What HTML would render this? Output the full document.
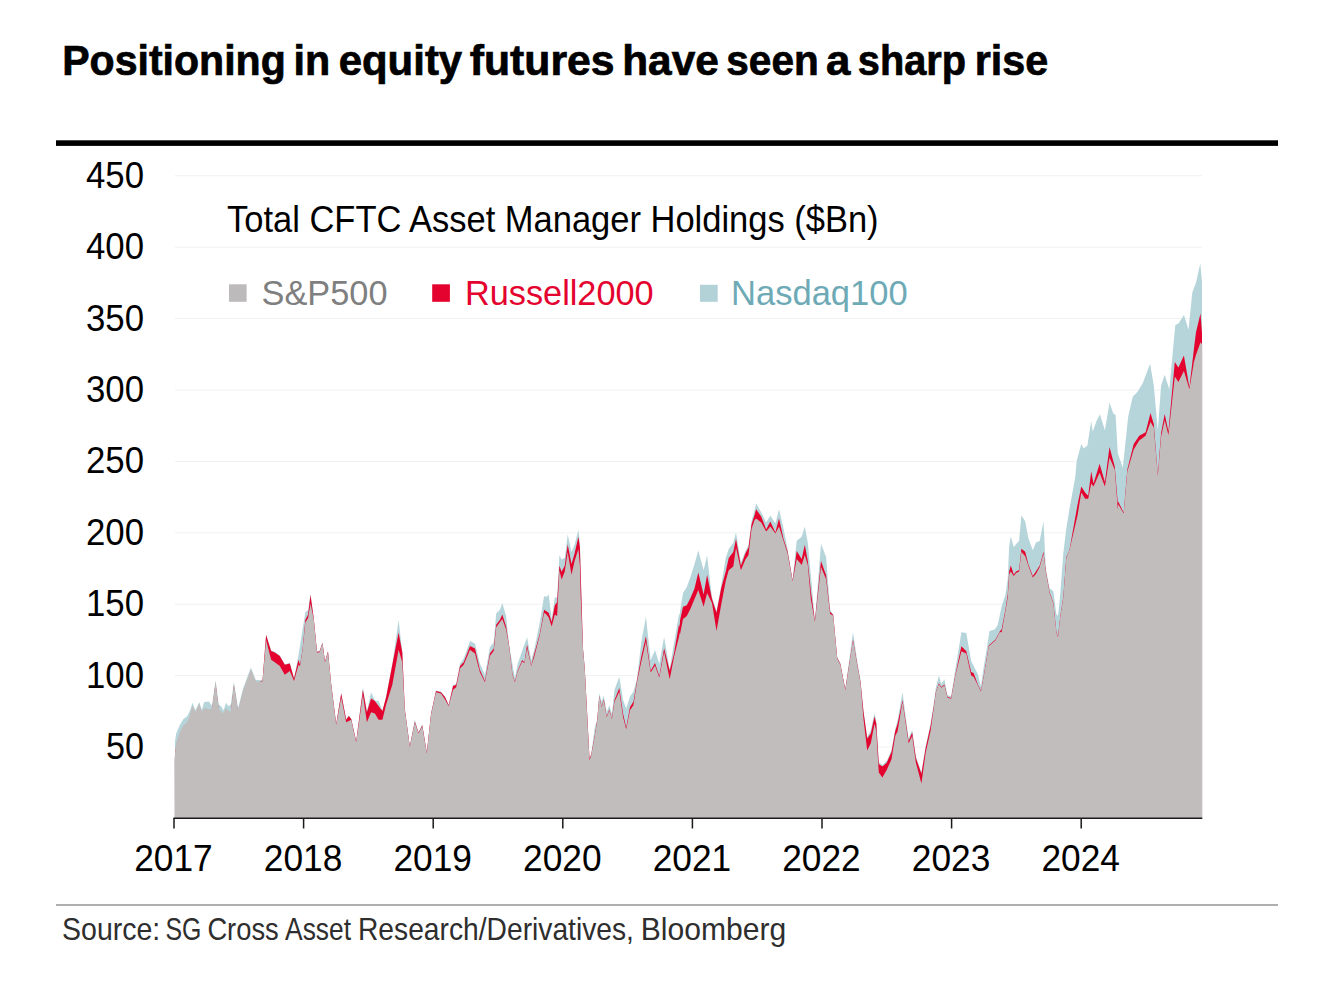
<!DOCTYPE html>
<html><head><meta charset="utf-8">
<style>
html,body{margin:0;padding:0;background:#fff;}
body{width:1338px;height:986px;position:relative;overflow:hidden;font-family:"Liberation Sans",sans-serif;}
svg{position:absolute;left:0;top:0;}
text{font-family:"Liberation Sans",sans-serif;}
</style></head><body>
<svg width="1338" height="986" viewBox="0 0 1338 986">
<rect x="56" y="140.3" width="1222" height="5.6" fill="#000"/>
<g stroke="#f1f1f1" stroke-width="1">
<line x1="175" y1="175.75" x2="1202" y2="175.75"/>
<line x1="175" y1="247.16" x2="1202" y2="247.16"/>
<line x1="175" y1="318.57" x2="1202" y2="318.57"/>
<line x1="175" y1="389.98" x2="1202" y2="389.98"/>
<line x1="175" y1="461.39" x2="1202" y2="461.39"/>
<line x1="175" y1="532.80" x2="1202" y2="532.80"/>
<line x1="175" y1="604.21" x2="1202" y2="604.21"/>
<line x1="175" y1="675.62" x2="1202" y2="675.62"/>
<line x1="175" y1="747.03" x2="1202" y2="747.03"/>
</g>
<defs><clipPath id="cl"><rect x="175.1" y="0" width="1026.9" height="986"/></clipPath></defs>
<g clip-path="url(#cl)">
<path d="M174.5,818.0 L174.3,747.0 L176.1,733.7 L179.7,725.2 L183.4,719.0 L187.0,716.6 L189.5,711.8 L192.5,702.7 L195.5,710.6 L199.2,702.0 L201.9,710.0 L204.1,702.0 L208.9,701.4 L212.0,705.7 L215.6,680.1 L218.7,704.5 L221.1,706.3 L223.5,710.6 L226.0,702.7 L228.4,706.3 L230.8,704.5 L233.9,682.0 L238.1,708.1 L243.0,688.7 L250.9,667.4 L255.8,680.1 L262.5,680.1 L266.1,634.3 L271.1,650.5 L274.8,651.8 L279.8,655.5 L284.8,664.2 L289.8,663.0 L294.0,678.0 L298.5,654.9 L305.3,612.3 L308.1,610.0 L310.5,594.0 L313.7,617.3 L317.0,651.2 L319.5,651.0 L322.5,642.3 L325.0,661.0 L328.0,651.0 L331.2,683.5 L336.2,723.4 L341.2,692.9 L346.2,719.1 L348.7,715.4 L351.2,718.4 L356.2,740.9 L362.9,687.3 L366.9,711.6 L371.1,692.3 L374.9,700.4 L378.6,701.0 L382.4,710.4 L386.1,696.6 L392.3,664.2 L398.6,619.9 L402.3,651.7 L404.8,708.4 L409.8,745.8 L414.8,719.7 L418.5,732.1 L422.3,724.6 L426.8,752.1 L431.0,713.4 L436.0,690.4 L441.0,691.7 L445.0,696.5 L448.7,704.6 L453.0,685.3 L456.2,684.1 L460.0,663.5 L463.7,658.5 L470.0,641.0 L475.0,643.5 L479.9,663.5 L484.9,674.7 L489.9,647.2 L493.7,642.3 L496.2,613.6 L500.0,609.8 L502.3,603.0 L506.1,615.9 L509.1,645.0 L514.9,678.0 L517.5,664.6 L522.1,650.9 L527.1,637.2 L531.2,660.0 L534.2,649.4 L539.6,623.5 L544.1,596.1 L546.4,596.9 L548.7,594.6 L551.7,618.9 L554.8,597.6 L557.1,597.6 L559.4,555.0 L561.6,559.6 L564.7,558.0 L567.7,534.5 L571.5,552.0 L574.6,544.4 L578.4,529.9 L579.9,542.8 L583.0,648.1 L584.8,668.4 L589.5,757.9 L591.2,753.9 L594.7,727.6 L597.2,719.5 L599.3,693.1 L601.6,701.7 L603.8,695.7 L606.7,712.1 L609.3,705.2 L611.9,713.8 L614.5,689.7 L619.3,676.7 L623.1,700.0 L626.2,708.6 L630.0,696.6 L633.4,691.4 L636.9,679.3 L641.2,643.1 L645.9,616.4 L650.7,660.3 L655.0,650.0 L659.3,663.8 L664.1,637.1 L669.7,669.0 L674.0,643.1 L679.1,613.8 L679.8,614.8 L680.0,611.3 L683.0,593.0 L686.8,587.0 L690.7,576.3 L694.5,564.1 L698.3,550.4 L703.6,570.2 L707.1,555.8 L712.0,597.0 L716.5,611.0 L721.1,586.0 L725.7,558.0 L728.7,548.9 L733.3,542.8 L736.0,532.2 L740.9,562.6 L745.4,551.0 L748.5,545.0 L751.5,521.0 L754.6,510.0 L756.1,503.2 L761.2,512.3 L766.2,522.5 L770.3,515.4 L775.4,523.5 L779.0,509.3 L783.5,528.5 L787.5,548.8 L792.6,580.0 L796.7,540.7 L801.7,536.7 L804.8,526.5 L807.8,542.7 L810.9,575.2 L814.9,620.5 L821.0,543.8 L826.1,556.9 L830.1,609.7 L833.2,614.5 L837.2,657.1 L840.3,663.1 L845.3,688.7 L853.0,632.0 L857.5,662.4 L860.5,680.0 L863.5,710.5 L867.2,737.0 L870.8,730.0 L874.5,713.0 L876.3,721.0 L878.8,762.0 L882.4,765.0 L886.7,761.0 L891.5,750.0 L895.2,729.0 L897.6,720.0 L902.5,692.2 L908.6,738.0 L912.2,730.0 L915.9,756.0 L921.4,772.5 L925.6,746.0 L930.5,724.0 L934.2,700.0 L935.8,687.7 L938.9,675.5 L941.3,684.0 L944.4,679.2 L947.4,695.0 L951.1,696.2 L955.3,669.4 L961.4,632.3 L966.3,632.9 L971.2,660.9 L973.6,665.8 L977.9,674.3 L980.9,686.5 L983.9,665.8 L987.2,646.1 L989.5,630.9 L994.8,629.4 L997.8,624.8 L1001.6,606.5 L1005.4,594.4 L1007.7,579.1 L1009.2,545.7 L1010.8,536.5 L1013.8,547.2 L1016.1,544.1 L1019.1,541.1 L1021.4,515.2 L1025.2,521.3 L1028.3,538.0 L1032.8,550.2 L1035.9,542.6 L1039.7,541.1 L1043.5,521.3 L1045.8,568.5 L1049.6,588.3 L1053.4,591.3 L1056.4,614.2 L1058.0,615.7 L1060.2,594.4 L1063.3,553.3 L1066.1,530.0 L1069.1,510.9 L1075.2,477.4 L1076.7,460.7 L1081.3,443.9 L1083.6,448.5 L1087.4,445.4 L1091.2,421.1 L1092.7,431.8 L1096.5,421.1 L1099.9,414.2 L1104.9,430.2 L1109.5,402.8 L1113.3,413.5 L1115.6,415.0 L1117.8,453.1 L1122.8,467.7 L1128.2,416.6 L1132.8,396.6 L1137.4,392.0 L1142.8,382.9 L1150.1,363.7 L1153.8,385.6 L1157.8,430.0 L1161.1,385.6 L1164.7,374.7 L1169.3,389.3 L1175.3,324.9 L1178.5,323.6 L1184.0,314.9 L1188.5,329.8 L1192.3,292.4 L1196.0,282.4 L1200.3,263.5 L1202.3,284.9 L1202.3,818.0 Z" fill="#b6d5da"/>
<path d="M174.5,818.0 L174.3,762.0 L176.1,745.4 L179.7,734.5 L183.4,727.2 L187.0,724.7 L189.5,718.6 L192.5,707.7 L195.5,713.8 L199.2,705.3 L201.9,713.8 L204.1,710.1 L208.9,711.3 L212.0,710.1 L215.6,683.4 L218.7,710.1 L221.1,713.8 L223.5,715.0 L226.0,710.1 L228.4,712.6 L230.8,713.8 L233.9,685.8 L238.1,712.6 L243.0,693.1 L250.9,671.2 L255.8,683.4 L262.5,680.7 L266.1,634.9 L271.1,651.1 L274.8,652.4 L279.8,656.1 L284.8,664.8 L289.8,663.6 L294.0,678.6 L298.5,659.8 L300.0,664.8 L302.5,649.5 L305.3,620.1 L308.1,614.6 L310.5,595.0 L313.7,617.9 L317.0,651.8 L319.5,651.6 L322.5,642.9 L325.0,661.6 L328.0,651.6 L331.2,684.1 L336.2,724.0 L341.2,693.5 L346.2,719.7 L348.7,716.0 L351.2,719.0 L356.2,741.5 L362.9,689.8 L366.9,712.2 L371.1,698.5 L374.9,701.0 L378.6,706.0 L382.4,711.0 L386.1,697.2 L392.3,664.8 L398.6,632.4 L402.3,652.3 L404.8,709.0 L409.8,746.4 L414.8,721.5 L418.5,732.7 L422.3,725.2 L426.8,752.7 L431.0,714.0 L436.0,691.0 L441.0,692.3 L445.0,697.1 L448.7,705.2 L453.0,685.9 L456.2,684.7 L460.0,666.0 L463.7,662.2 L470.0,646.0 L475.0,648.5 L479.9,669.7 L484.9,680.9 L489.9,653.5 L493.7,648.5 L496.2,624.8 L500.0,619.7 L502.3,614.4 L506.1,626.5 L509.1,645.6 L512.5,674.3 L514.9,681.5 L517.5,671.3 L522.1,660.0 L524.4,662.3 L527.1,644.8 L531.2,665.4 L534.2,654.0 L539.6,634.2 L544.1,609.8 L546.4,611.3 L548.7,612.8 L551.7,622.0 L554.8,605.2 L557.1,602.2 L559.4,565.7 L561.6,571.8 L564.7,565.7 L567.7,544.4 L571.5,564.1 L574.6,553.5 L578.4,536.7 L579.9,547.4 L583.0,648.7 L584.8,669.0 L589.5,758.5 L591.2,754.5 L594.7,735.5 L597.2,720.0 L599.3,695.9 L601.6,706.2 L603.8,699.3 L606.7,716.5 L609.3,709.6 L611.9,718.3 L614.5,700.0 L619.3,687.9 L623.1,713.8 L626.2,727.6 L630.0,706.9 L633.4,701.7 L636.9,681.0 L641.2,656.9 L645.9,636.2 L650.7,670.7 L655.0,662.9 L659.3,675.9 L664.1,648.3 L669.7,670.7 L674.0,653.4 L679.1,624.1 L679.8,627.3 L680.0,620.5 L683.0,606.8 L686.8,605.2 L690.7,597.6 L694.5,588.5 L698.3,572.5 L703.6,594.6 L707.1,574.8 L712.0,599.1 L716.5,612.8 L721.1,588.5 L725.7,571.8 L728.7,558.0 L733.3,552.0 L736.0,539.0 L740.9,565.7 L745.4,553.5 L748.5,547.4 L751.5,524.6 L754.6,515.0 L756.1,509.3 L761.2,516.4 L766.2,529.6 L770.3,521.4 L775.4,532.6 L779.0,518.4 L783.5,538.7 L787.5,550.9 L792.6,580.6 L796.7,550.9 L801.7,559.0 L804.8,544.8 L807.8,561.0 L810.9,591.4 L814.9,621.1 L821.0,561.0 L826.1,575.2 L830.1,611.7 L833.2,615.1 L837.2,657.7 L840.3,663.7 L845.3,689.3 L853.0,639.4 L857.5,665.8 L860.5,682.0 L863.5,711.7 L867.2,738.5 L870.8,733.6 L874.5,716.5 L876.3,723.8 L878.8,764.0 L882.4,766.5 L886.7,762.8 L891.5,751.9 L895.2,731.2 L897.6,723.8 L902.5,700.0 L908.6,740.9 L912.2,732.4 L915.9,758.0 L921.4,773.8 L925.6,748.2 L930.5,726.3 L934.2,703.4 L935.8,691.9 L938.9,683.3 L941.3,687.0 L944.4,684.6 L947.4,696.7 L951.1,698.0 L955.3,674.8 L961.4,646.3 L966.3,651.2 L971.2,671.9 L973.6,673.1 L977.9,684.6 L980.9,690.7 L983.9,674.8 L988.8,645.6 L995.5,639.5 L1000.0,631.0 L1001.6,629.4 L1005.4,609.6 L1007.7,594.4 L1009.2,571.5 L1010.8,565.4 L1013.8,574.6 L1016.1,571.5 L1019.1,570.0 L1021.4,548.7 L1025.2,551.8 L1028.3,563.9 L1032.8,576.1 L1035.9,571.5 L1039.7,565.4 L1043.5,551.8 L1045.8,570.8 L1049.6,592.1 L1053.4,602.8 L1056.4,631.7 L1058.0,636.3 L1060.2,616.5 L1063.3,596.7 L1066.3,557.1 L1069.4,550.2 L1077.5,504.8 L1081.3,486.5 L1085.1,492.6 L1088.2,495.7 L1091.2,471.3 L1093.5,483.5 L1099.6,463.7 L1104.9,482.0 L1109.5,447.0 L1114.8,466.8 L1117.8,503.3 L1118.2,501.5 L1123.7,512.4 L1127.3,469.6 L1133.7,444.0 L1139.2,435.8 L1145.6,432.2 L1150.5,413.0 L1153.8,424.0 L1157.8,475.0 L1161.1,433.0 L1164.7,413.9 L1168.4,431.2 L1174.8,361.9 L1178.4,367.4 L1183.9,355.5 L1189.4,387.4 L1193.9,349.1 L1196.0,332.3 L1199.4,318.0 L1200.5,313.6 L1202.3,337.3 L1202.3,818.0 Z" fill="#e4032e"/>
</g>
<path d="M174.5,818.0 L174.3,760.0 L176.1,743.4 L179.7,732.5 L183.4,725.2 L187.0,722.7 L189.5,716.6 L192.5,705.7 L195.5,711.8 L199.2,703.3 L201.9,711.8 L204.1,708.1 L208.9,709.3 L212.0,708.1 L215.6,681.4 L218.7,708.1 L221.1,711.8 L223.5,713.0 L226.0,708.1 L228.4,710.6 L230.8,711.8 L233.9,683.8 L238.1,710.6 L243.0,691.1 L250.9,669.2 L255.8,681.4 L262.5,681.4 L266.1,639.9 L271.1,659.8 L274.8,662.3 L279.8,666.1 L284.8,674.8 L289.8,671.1 L294.0,681.0 L298.5,664.8 L300.0,666.1 L302.5,650.3 L305.3,622.4 L308.1,617.9 L310.5,603.4 L313.7,619.0 L317.0,652.5 L319.5,652.3 L322.5,643.6 L325.0,662.3 L328.0,652.3 L331.2,684.8 L336.2,724.7 L341.2,697.2 L346.2,722.2 L351.2,719.7 L356.2,742.2 L362.9,694.8 L366.9,722.2 L371.1,712.2 L374.9,713.5 L378.6,719.7 L382.4,719.7 L386.1,704.7 L392.3,684.8 L398.6,649.8 L402.3,662.3 L404.8,709.7 L409.8,747.1 L414.8,722.2 L418.5,733.4 L422.3,725.9 L426.8,753.4 L431.0,714.7 L436.0,692.3 L441.0,693.5 L445.0,699.6 L448.7,705.9 L453.0,689.7 L456.2,687.2 L460.0,668.5 L463.7,664.7 L470.0,649.7 L475.0,653.5 L479.9,672.2 L484.9,682.2 L489.9,656.0 L493.7,651.0 L496.2,627.3 L500.0,622.0 L502.3,619.0 L506.1,629.6 L509.1,646.3 L512.5,675.0 L514.9,682.2 L517.5,672.0 L522.1,661.6 L524.4,663.0 L527.1,647.9 L531.2,666.1 L534.2,657.0 L539.6,635.7 L544.1,612.8 L546.4,614.4 L548.7,617.4 L551.7,626.5 L554.8,614.4 L557.1,615.9 L559.4,570.2 L561.6,579.4 L564.7,571.8 L567.7,552.0 L571.5,574.8 L574.6,561.1 L578.4,548.9 L579.9,565.7 L580.7,596.1 L583.0,649.4 L584.8,669.7 L589.5,760.3 L591.2,755.2 L594.7,736.2 L597.2,720.7 L599.3,696.6 L601.6,706.9 L603.8,700.0 L606.7,717.2 L609.3,710.3 L611.9,719.0 L614.5,701.7 L619.3,691.4 L623.1,717.2 L626.2,729.3 L630.0,710.3 L633.4,705.2 L636.9,682.8 L641.2,662.1 L645.9,641.4 L650.7,672.4 L655.0,665.5 L659.3,677.6 L664.1,651.7 L669.7,679.3 L674.0,656.9 L679.1,636.2 L679.8,632.3 L680.0,634.2 L683.0,619.0 L686.8,615.9 L690.7,608.3 L694.5,599.1 L698.3,590.0 L703.6,606.8 L707.1,593.0 L712.0,603.0 L716.5,631.1 L721.1,605.2 L725.7,580.9 L728.7,570.2 L733.3,566.4 L736.0,547.4 L740.9,570.2 L745.4,559.6 L748.5,555.0 L751.5,529.1 L754.6,520.0 L756.1,518.4 L761.2,522.5 L766.2,531.6 L770.3,526.5 L775.4,533.6 L779.0,526.5 L783.5,540.7 L787.5,552.9 L792.6,581.3 L796.7,559.0 L801.7,565.0 L804.8,554.9 L807.8,565.0 L810.9,599.5 L814.9,621.8 L821.0,567.1 L826.1,579.2 L830.1,613.7 L833.2,615.8 L837.2,658.4 L840.3,664.4 L845.3,690.0 L853.0,640.1 L857.5,666.5 L860.5,682.7 L863.5,719.0 L867.2,750.6 L870.8,743.3 L874.5,723.8 L876.3,731.2 L878.8,772.6 L882.4,777.4 L886.7,770.1 L891.5,759.2 L895.2,736.0 L897.6,731.2 L902.5,702.0 L908.6,743.3 L912.2,736.0 L915.9,762.8 L921.4,783.5 L925.6,753.1 L930.5,731.2 L934.2,704.4 L935.8,692.6 L938.9,684.0 L941.3,687.7 L944.4,685.3 L947.4,697.4 L951.1,698.7 L955.3,675.5 L961.4,651.2 L966.3,653.6 L971.2,675.5 L973.6,676.7 L977.9,685.3 L980.9,691.4 L983.9,675.5 L988.8,646.3 L995.5,640.2 L1000.0,631.7 L1001.6,632.4 L1005.4,611.1 L1007.7,597.4 L1009.2,574.6 L1010.8,571.5 L1013.8,576.1 L1016.1,573.1 L1019.1,571.5 L1021.4,551.8 L1025.2,556.3 L1028.3,565.4 L1032.8,577.6 L1035.9,574.0 L1039.7,567.0 L1043.5,553.3 L1045.8,571.5 L1049.6,592.8 L1053.4,603.5 L1056.4,632.4 L1058.0,637.0 L1060.2,617.2 L1063.3,597.4 L1066.3,557.8 L1069.4,550.2 L1077.5,515.5 L1081.3,492.6 L1085.1,498.7 L1088.2,498.7 L1091.2,483.5 L1093.5,486.5 L1099.6,472.8 L1104.9,486.5 L1109.5,457.6 L1114.8,469.8 L1117.8,509.4 L1118.2,504.2 L1123.7,513.4 L1127.3,471.4 L1133.7,449.5 L1139.2,440.4 L1145.6,435.8 L1150.5,422.1 L1153.8,427.6 L1157.8,475.8 L1161.1,436.7 L1164.7,420.3 L1168.4,434.9 L1174.8,376.5 L1178.4,382.0 L1183.9,371.0 L1189.4,389.3 L1193.9,361.9 L1196.0,354.8 L1199.4,345.5 L1200.5,342.3 L1202.3,344.8 L1202.3,818.0 Z" fill="#c1bdbd"/>
<g stroke="#1a1a1a" stroke-width="1.5" fill="none">
<line x1="173.5" y1="818.2" x2="1202.3" y2="818.2"/>
<line x1="174.0" y1="818" x2="174.0" y2="828.5"/>
<line x1="303.6" y1="818" x2="303.6" y2="828.5"/>
<line x1="433.2" y1="818" x2="433.2" y2="828.5"/>
<line x1="562.8" y1="818" x2="562.8" y2="828.5"/>
<line x1="692.4" y1="818" x2="692.4" y2="828.5"/>
<line x1="822.0" y1="818" x2="822.0" y2="828.5"/>
<line x1="951.6" y1="818" x2="951.6" y2="828.5"/>
<line x1="1081.2" y1="818" x2="1081.2" y2="828.5"/>
</g>
<rect x="229" y="284.3" width="17.6" height="17.5" fill="#bcbaba"/>
<rect x="432.2" y="284.3" width="17.7" height="17.5" fill="#e4032e"/>
<rect x="700" y="284.8" width="17.7" height="17" fill="#b2d2d8"/>
<rect x="56" y="904.2" width="1222" height="1.6" fill="#9c9c9c"/>
<text x="62.20" y="74.90" font-size="41.80" font-weight="bold" textLength="223.63" lengthAdjust="spacingAndGlyphs" fill="#000" stroke="#000" stroke-width="0.7">Positioning</text>
<text x="293.50" y="74.90" font-size="41.80" font-weight="bold" textLength="36.68" lengthAdjust="spacingAndGlyphs" fill="#000" stroke="#000" stroke-width="0.7">in</text>
<text x="338.70" y="74.90" font-size="41.80" font-weight="bold" textLength="123.48" lengthAdjust="spacingAndGlyphs" fill="#000" stroke="#000" stroke-width="0.7">equity</text>
<text x="469.70" y="74.90" font-size="41.80" font-weight="bold" textLength="144.89" lengthAdjust="spacingAndGlyphs" fill="#000" stroke="#000" stroke-width="0.7">futures</text>
<text x="622.20" y="74.90" font-size="41.80" font-weight="bold" textLength="96.63" lengthAdjust="spacingAndGlyphs" fill="#000" stroke="#000" stroke-width="0.7">have</text>
<text x="726.30" y="74.90" font-size="41.80" font-weight="bold" textLength="92.42" lengthAdjust="spacingAndGlyphs" fill="#000" stroke="#000" stroke-width="0.7">seen</text>
<text x="826.10" y="74.90" font-size="41.80" font-weight="bold" textLength="24.39" lengthAdjust="spacingAndGlyphs" fill="#000" stroke="#000" stroke-width="0.7">a</text>
<text x="857.80" y="74.90" font-size="41.80" font-weight="bold" textLength="108.29" lengthAdjust="spacingAndGlyphs" fill="#000" stroke="#000" stroke-width="0.7">sharp</text>
<text x="974.70" y="74.90" font-size="41.80" font-weight="bold" textLength="73.53" lengthAdjust="spacingAndGlyphs" fill="#000" stroke="#000" stroke-width="0.7">rise</text>
<text x="227.00" y="231.60" font-size="36.20" textLength="651.60" lengthAdjust="spacingAndGlyphs" fill="#000">Total CFTC Asset Manager Holdings ($Bn)</text>
<text x="261.50" y="304.70" font-size="35.80" textLength="126.00" lengthAdjust="spacingAndGlyphs" fill="#7f7f7f">S&amp;P500</text>
<text x="465.00" y="304.70" font-size="35.80" textLength="188.60" lengthAdjust="spacingAndGlyphs" fill="#e4032e">Russell2000</text>
<text x="731.00" y="304.70" font-size="35.80" textLength="176.70" lengthAdjust="spacingAndGlyphs" fill="#6eaab6">Nasdaq100</text>
<text x="62.10" y="940.20" font-size="31.50" textLength="98.19" lengthAdjust="spacingAndGlyphs" fill="#2e2e2e">Source:</text>
<text x="165.40" y="940.20" font-size="31.50" textLength="35.91" lengthAdjust="spacingAndGlyphs" fill="#2e2e2e">SG</text>
<text x="207.40" y="940.20" font-size="31.50" textLength="71.30" lengthAdjust="spacingAndGlyphs" fill="#2e2e2e">Cross</text>
<text x="285.10" y="940.20" font-size="31.50" textLength="65.93" lengthAdjust="spacingAndGlyphs" fill="#2e2e2e">Asset</text>
<text x="358.00" y="940.20" font-size="31.50" textLength="275.94" lengthAdjust="spacingAndGlyphs" fill="#2e2e2e">Research/Derivatives,</text>
<text x="640.70" y="940.20" font-size="31.50" textLength="145.55" lengthAdjust="spacingAndGlyphs" fill="#2e2e2e">Bloomberg</text>
<text x="144.00" y="187.75" font-size="36.50" text-anchor="end" textLength="58.00" lengthAdjust="spacingAndGlyphs">450</text>
<text x="144.00" y="259.16" font-size="36.50" text-anchor="end" textLength="58.00" lengthAdjust="spacingAndGlyphs">400</text>
<text x="144.00" y="330.57" font-size="36.50" text-anchor="end" textLength="58.00" lengthAdjust="spacingAndGlyphs">350</text>
<text x="144.00" y="401.98" font-size="36.50" text-anchor="end" textLength="58.00" lengthAdjust="spacingAndGlyphs">300</text>
<text x="144.00" y="473.39" font-size="36.50" text-anchor="end" textLength="58.00" lengthAdjust="spacingAndGlyphs">250</text>
<text x="144.00" y="544.80" font-size="36.50" text-anchor="end" textLength="58.00" lengthAdjust="spacingAndGlyphs">200</text>
<text x="144.00" y="616.21" font-size="36.50" text-anchor="end" textLength="58.00" lengthAdjust="spacingAndGlyphs">150</text>
<text x="144.00" y="687.62" font-size="36.50" text-anchor="end" textLength="58.00" lengthAdjust="spacingAndGlyphs">100</text>
<text x="144.00" y="759.03" font-size="36.50" text-anchor="end" textLength="38.00" lengthAdjust="spacingAndGlyphs">50</text>
<text x="173.50" y="871.30" font-size="36.80" text-anchor="middle" textLength="78.50" lengthAdjust="spacingAndGlyphs">2017</text>
<text x="303.10" y="871.30" font-size="36.80" text-anchor="middle" textLength="78.50" lengthAdjust="spacingAndGlyphs">2018</text>
<text x="432.70" y="871.30" font-size="36.80" text-anchor="middle" textLength="78.50" lengthAdjust="spacingAndGlyphs">2019</text>
<text x="562.30" y="871.30" font-size="36.80" text-anchor="middle" textLength="78.50" lengthAdjust="spacingAndGlyphs">2020</text>
<text x="691.90" y="871.30" font-size="36.80" text-anchor="middle" textLength="78.50" lengthAdjust="spacingAndGlyphs">2021</text>
<text x="821.50" y="871.30" font-size="36.80" text-anchor="middle" textLength="78.50" lengthAdjust="spacingAndGlyphs">2022</text>
<text x="951.10" y="871.30" font-size="36.80" text-anchor="middle" textLength="78.50" lengthAdjust="spacingAndGlyphs">2023</text>
<text x="1080.70" y="871.30" font-size="36.80" text-anchor="middle" textLength="78.50" lengthAdjust="spacingAndGlyphs">2024</text>
</svg>
</body></html>
